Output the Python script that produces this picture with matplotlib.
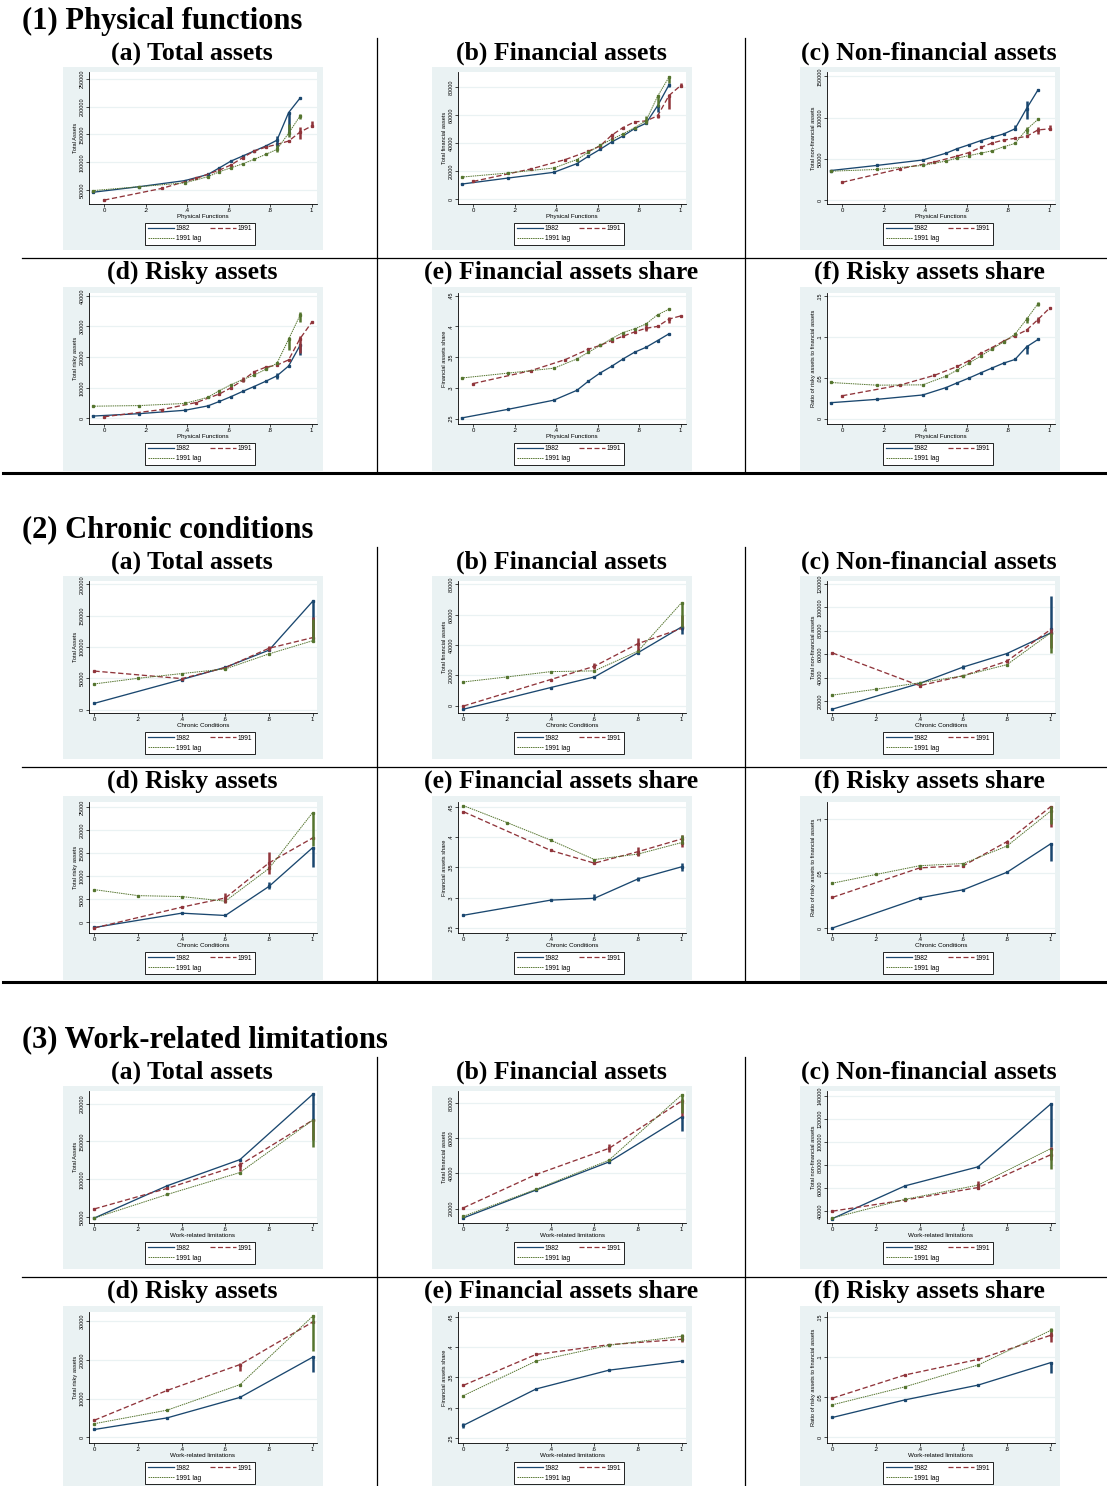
import numpy as np
import matplotlib.pyplot as plt
from matplotlib.lines import Line2D
from matplotlib.patches import Rectangle

plt.rcParams['font.family'] = ['Liberation Sans', 'DejaVu Sans']

# ---------------- data ----------------
# (1) physical functions
pf_x = [-0.056, 0.167, 0.389, 0.5, 0.556, 0.611, 0.667, 0.722, 0.778, 0.833, 0.889, 0.944]
pf_x91 = [0.0, 0.278, 0.444, 0.556, 0.611, 0.667, 0.722, 0.778, 0.833, 0.889, 0.944, 1.0]

pf_total_82 = [46000, 56000, 67000, 78000, 90000, 102000, 111000, 120000, 129000, 139500, 189000, 215000]
pf_total_91 = [32000, 53000, 71000, 86000, 95000, 108000, 120000, 127000, 132000, 138000, 154000, 165000]
pf_total_lag = [49000, 56000, 63000, 74000, 83000, 90000, 97000, 105000, 114000, 123000, 152000, 183000]
pf_total_bars = [('82', 0.833, 127700, 146800), ('82', 0.889, 154500, 188600),
                 ('lag', 0.833, 118700, 130600), ('lag', 0.889, 145600, 169500), ('lag', 0.944, 178400, 187400),
                 ('91', 0.944, 142600, 163500), ('91', 1.0, 163500, 173700)]

pf_fin_82 = [10800, 15100, 19200, 25400, 30700, 35500, 40800, 45100, 50400, 54200, 66700, 81600]
pf_fin_91 = [12700, 21600, 28300, 34300, 37900, 45600, 51100, 55200, 55900, 59500, 74000, 81100]
pf_fin_lag = [15800, 18700, 22300, 28300, 33600, 38400, 42700, 46600, 51100, 55900, 73500, 87100]
pf_fin_bars = [('82', 0.889, 61900, 66700), ('82', 0.944, 80000, 83100),
               ('lag', 0.833, 53500, 59100), ('lag', 0.889, 65500, 73900), ('lag', 0.944, 83100, 87900),
               ('91', 0.667, 42700, 46300), ('91', 0.889, 58300, 60700), ('91', 0.944, 64300, 75100),
               ('91', 1.0, 80000, 83100)]

pf_nonfin_82 = [35700, 41900, 48500, 56700, 62400, 67000, 71900, 76000, 80100, 86300, 111000, 133500]
pf_nonfin_91 = [21400, 37800, 46000, 53400, 57500, 63700, 69000, 72700, 74800, 77200, 85000, 86300]
pf_nonfin_lag = [34900, 37000, 41900, 47200, 50900, 53800, 56700, 59600, 64500, 68600, 85500, 97800]
pf_nonfin_bars = [('82', 0.833, 85500, 90400), ('82', 0.889, 97800, 120000),
                  ('lag', 0.889, 80100, 88300), ('91', 0.944, 80100, 88300), ('91', 1.0, 85000, 91200)]

pf_risky_82 = [780, 1560, 2670, 4100, 5560, 7100, 8800, 10400, 12100, 13900, 17100, 23800]
pf_risky_91 = [560, 2900, 5200, 8000, 10000, 12400, 15200, 16700, 17400, 19100, 26000, 31300]
pf_risky_lag = [4000, 4200, 4900, 6900, 9100, 11000, 12700, 14100, 16000, 18000, 25800, 33600]
pf_risky_bars = [('82', 0.833, 13000, 14700), ('82', 0.944, 20800, 24100),
                 ('lag', 0.889, 22400, 26700), ('lag', 0.944, 31300, 34700),
                 ('91', 0.667, 11900, 13600), ('91', 0.944, 21300, 26900)]

pf_fshare_82 = [0.251, 0.265, 0.280, 0.296, 0.311, 0.324, 0.335, 0.347, 0.358, 0.366, 0.377, 0.388]
pf_fshare_91 = [0.307, 0.328, 0.346, 0.363, 0.369, 0.377, 0.384, 0.391, 0.397, 0.400, 0.412, 0.417]
pf_fshare_lag = [0.316, 0.324, 0.332, 0.347, 0.358, 0.369, 0.380, 0.390, 0.396, 0.404, 0.419, 0.428]
pf_fshare_bars = [('91', 0.944, 0.406, 0.416), ('91', 0.833, 0.393, 0.402)]

pf_rshare_82 = [0.0195, 0.0236, 0.029, 0.038, 0.044, 0.0497, 0.056, 0.062, 0.068, 0.0725, 0.088, 0.097]
pf_rshare_91 = [0.028, 0.041, 0.053, 0.064, 0.071, 0.080, 0.087, 0.095, 0.1015, 0.1085, 0.1215, 0.1355]
pf_rshare_lag = [0.0443, 0.041, 0.0414, 0.052, 0.0597, 0.068, 0.0766, 0.0853, 0.094, 0.1035, 0.1218, 0.141]
pf_rshare_bars = [('82', 0.889, 0.0795, 0.090), ('lag', 0.889, 0.1176, 0.124),
                  ('lag', 0.944, 0.1375, 0.1425), ('91', 0.944, 0.117, 0.125)]

# (2) chronic conditions
cc_x = [0, 0.4, 0.6, 0.8, 1]
cc_xlag = [0, 0.2, 0.4, 0.6, 0.8, 1]

cc_total_82 = [10000, 48000, 67600, 95000, 173000]
cc_total_91 = [61500, 49500, 67000, 98000, 115000]
cc_total_lag = [41000, 50000, 57500, 65000, 89000, 110000]
cc_total_bars = [('82', 1, 112000, 173000), ('91', 1, 115000, 148000), ('lag', 1, 110000, 145000),
                 ('91', 0.8, 93000, 101000)]

cc_fin_82 = [-2300, 12000, 19000, 35000, 52000]
cc_fin_91 = [-200, 17300, 26000, 41000, 51000]
cc_fin_lag = [15700, 19000, 22500, 23000, 36000, 68000]
cc_fin_bars = [('91', 0.6, 24000, 28000), ('91', 0.8, 37000, 45000), ('91', 1, 50000, 60000),
               ('lag', 1, 51000, 68000), ('82', 1, 47500, 52000)]

cc_nonfin_82 = [13000, 35000, 49000, 60500, 78000]
cc_nonfin_91 = [61000, 33000, 41500, 54000, 81000]
cc_nonfin_lag = [25000, 30000, 35500, 41500, 51000, 78000]
cc_nonfin_bars = [('82', 1, 78200, 109700), ('82', 0.6, 47000, 51000), ('91', 1, 65500, 81700),
                  ('lag', 1, 61000, 78000), ('91', 0.8, 52000, 56000)]

cc_risky_82 = [-1100, 2000, 1500, 7800, 16200]
cc_risky_91 = [-1200, 3300, 5300, 12900, 18300]
cc_risky_lag = [7100, 5800, 5600, 4600, 11700, 23800]
cc_risky_bars = [('82', 1, 12000, 16200), ('91', 0.8, 10500, 15200), ('91', 0.6, 4100, 6300),
                 ('lag', 1, 16500, 23800), ('82', 0.8, 7300, 8800)]

cc_fshare_82 = [0.271, 0.296, 0.299, 0.331, 0.351]
cc_fshare_91 = [0.442, 0.378, 0.357, 0.376, 0.397]
cc_fshare_lag = [0.452, 0.424, 0.395, 0.363, 0.372, 0.391]
cc_fshare_bars = [('91', 0.8, 0.369, 0.383), ('91', 1, 0.383, 0.403), ('lag', 1, 0.389, 0.403),
                  ('82', 1, 0.344, 0.358), ('82', 0.6, 0.297, 0.306), ('82', 0.8, 0.327, 0.334)]

cc_rshare_82 = [0.0, 0.0276, 0.035, 0.051, 0.077]
cc_rshare_91 = [0.028, 0.055, 0.057, 0.079, 0.111]
cc_rshare_lag = [0.041, 0.049, 0.057, 0.059, 0.075, 0.107]
cc_rshare_bars = [('82', 1, 0.061, 0.078), ('91', 1, 0.092, 0.112), ('lag', 1, 0.095, 0.112),
                  ('91', 0.8, 0.077, 0.080)]

# (3) work-related limitations
wl_x = [0, 0.333, 0.667, 1]

wl_total_82 = [49000, 91500, 126000, 212000]
wl_total_91 = [61000, 88000, 119000, 178000]
wl_total_lag = [49000, 80000, 109000, 178000]
wl_total_bars = [('82', 1, 179000, 212000), ('91', 1, 151800, 178600), ('lag', 1, 142900, 178600),
                 ('91', 0.667, 111600, 122800)]

wl_fin_82 = [14800, 30600, 46500, 72000]
wl_fin_91 = [20500, 39400, 54200, 81000]
wl_fin_lag = [15700, 31000, 47500, 84500]
wl_fin_bars = [('82', 1, 63800, 72000), ('91', 1, 72500, 82100), ('lag', 1, 74400, 85000),
               ('91', 0.667, 52300, 56700)]

wl_nonfin_82 = [33500, 62000, 78500, 133000]
wl_nonfin_91 = [40000, 49700, 60500, 89000]
wl_nonfin_lag = [34000, 50300, 62600, 94300]
wl_nonfin_bars = [('82', 1, 95900, 133500), ('91', 1, 84100, 95900), ('lag', 1, 76800, 94400),
                  ('91', 0.667, 59100, 66500)]

wl_risky_82 = [2000, 5000, 10300, 20700]
wl_risky_91 = [4400, 12100, 18800, 29800]
wl_risky_lag = [3500, 7000, 13600, 31300]
wl_risky_bars = [('82', 1, 16900, 20700), ('lag', 1, 22200, 31300), ('91', 0.667, 17100, 19200)]

wl_fshare_82 = [0.271, 0.331, 0.362, 0.377]
wl_fshare_91 = [0.337, 0.388, 0.404, 0.413]
wl_fshare_lag = [0.320, 0.377, 0.403, 0.418]
wl_fshare_bars = [('91', 1, 0.408, 0.420), ('lag', 1, 0.410, 0.422), ('82', 0, 0.266, 0.274)]

wl_rshare_82 = [0.0248, 0.0467, 0.065, 0.093]
wl_rshare_91 = [0.0488, 0.0777, 0.097, 0.127]
wl_rshare_lag = [0.0405, 0.063, 0.090, 0.133]
wl_rshare_bars = [('82', 1, 0.0798, 0.0942), ('lag', 1, 0.128, 0.1355), ('91', 1, 0.119, 0.131)]

titles = ["(a) Total assets", "(b) Financial assets", "(c) Non-financial assets",
          "(d) Risky assets", "(e) Financial assets share", "(f) Risky assets share"]
ylabels = ["Total Assets", "Total financial assets", "Total non-financial assets",
           "Total risky assets", "Financial assets share", "Ratio of risky assets to financial assets"]

# ---------------- layout ----------------
W, H = 1107, 1486
fig = plt.figure(figsize=(W / 100, H / 100), dpi=100)

c82, c91, clag = '#1a476f', '#90353b', '#55752f'
cols = {'82': c82, '91': c91, 'lag': clag}
bgcol = '#eaf2f3'
serif = ['Liberation Serif', 'DejaVu Serif']


def fx(x):
    return x / W


def fy(y):
    return 1 - y / H


def fmt(v):
    if v == 0:
        return '0'
    if abs(v) < 1:
        return ('%g' % v).replace('0.', '.')
    return '%d' % v


sections = [
    ("(1) Physical functions", "Physical Functions", pf_x, pf_x91, pf_x, (-0.073, 1.026), [
        (pf_total_82, pf_total_91, pf_total_lag, pf_total_bars, (25000, 262000), np.arange(50000, 250001, 50000)),
        (pf_fin_82, pf_fin_91, pf_fin_lag, pf_fin_bars, (-3400, 90800), np.arange(0, 80001, 20000)),
        (pf_nonfin_82, pf_nonfin_91, pf_nonfin_lag, pf_nonfin_bars, (-4900, 155300), np.arange(0, 150001, 50000)),
        (pf_risky_82, pf_risky_91, pf_risky_lag, pf_risky_bars, (-1800, 40900), np.arange(0, 40001, 10000)),
        (pf_fshare_82, pf_fshare_91, pf_fshare_lag, pf_fshare_bars, (0.2412, 0.4544), [.25, .3, .35, .4, .45]),
        (pf_rshare_82, pf_rshare_91, pf_rshare_lag, pf_rshare_bars, (-0.0066, 0.154), [0, .05, .1, .15]),
    ]),
    ("(2) Chronic conditions", "Chronic Conditions", cc_x, cc_x, cc_xlag, (-0.025, 1.02), [
        (cc_total_82, cc_total_91, cc_total_lag, cc_total_bars, (-5500, 205500), np.arange(0, 200001, 50000)),
        (cc_fin_82, cc_fin_91, cc_fin_lag, cc_fin_bars, (-4800, 82300), np.arange(0, 80001, 20000)),
        (cc_nonfin_82, cc_nonfin_91, cc_nonfin_lag, cc_nonfin_bars, (9700, 122400), np.arange(20000, 120001, 20000)),
        (cc_risky_82, cc_risky_91, cc_risky_lag, cc_risky_bars, (-2300, 26100), np.arange(0, 25001, 5000)),
        (cc_fshare_82, cc_fshare_91, cc_fshare_lag, cc_fshare_bars, (0.2417, 0.458), [.25, .3, .35, .4, .45]),
        (cc_rshare_82, cc_rshare_91, cc_rshare_lag, cc_rshare_bars, (-0.0046, 0.1153), [0, .05, .1]),
    ]),
    ("(3) Work-related limitations", "Work-related limitations", wl_x, wl_x, wl_x, (-0.025, 1.02), [
        (wl_total_82, wl_total_91, wl_total_lag, wl_total_bars, (42400, 216500), np.arange(50000, 200001, 50000)),
        (wl_fin_82, wl_fin_91, wl_fin_lag, wl_fin_bars, (11900, 86700), np.arange(20000, 80001, 20000)),
        (wl_nonfin_82, wl_nonfin_91, wl_nonfin_lag, wl_nonfin_bars, (29700, 144400), np.arange(40000, 140001, 20000)),
        (wl_risky_82, wl_risky_91, wl_risky_lag, wl_risky_bars, (-1500, 32400), np.arange(0, 30001, 10000)),
        (wl_fshare_82, wl_fshare_91, wl_fshare_lag, wl_fshare_bars, (0.2418, 0.458), [.25, .3, .35, .4, .45]),
        (wl_rshare_82, wl_rshare_91, wl_rshare_lag, wl_rshare_bars, (-0.007, 0.156), [0, .05, .1, .15]),
    ]),
]

offsets = [0, 509, 1019]
plot_left = [89, 458, 827]
plot_w = 228
bg_left = [63, 432, 800]
bg_w = 260
sub_cx = [192, 561, 929]

for s, (stitle, xlabel, x82, x91, xlag, xlim, panels) in enumerate(sections):
    off = offsets[s]
    fig.text(fx(22), fy(21 + off), stitle, fontsize=22, fontweight='bold', family=serif, ha='left', va='center')

    # frame lines
    vend = 473 + off if s < 2 else H
    for xv in (377, 745):
        fig.add_artist(Line2D([fx(xv), fx(xv)], [fy(38 + off), fy(vend)], color='black', lw=0.9,
                              transform=fig.transFigure))
    fig.add_artist(Line2D([fx(22), fx(W)], [fy(258 + off), fy(258 + off)], color='black', lw=0.9,
                          transform=fig.transFigure))
    if s < 2:
        fig.add_artist(Line2D([fx(3), fx(W)], [fy(473 + off), fy(473 + off)], color='black', lw=2.2,
                              transform=fig.transFigure))

    for k, (y82, y91, ylag, bars, ylim, yticks) in enumerate(panels):
        row, col = divmod(k, 3)
        top = (72 if row == 0 else 293) + off
        bot = (204 if row == 0 else 424) + off
        btop = (67 if row == 0 else 287) + off
        bbot = (250 if row == 0 else 471) + off

        fig.patches.append(Rectangle((fx(bg_left[col]), fy(bbot)), bg_w / W, (bbot - btop) / H,
                                     transform=fig.transFigure, facecolor=bgcol, edgecolor='none', zorder=-1))
        fig.text(fx(sub_cx[col]), fy((53 if row == 0 else 272) + off), titles[k], fontsize=18.5,
                 fontweight='bold', family=serif, ha='center', va='center')

        ax = fig.add_axes([fx(plot_left[col]), fy(bot), plot_w / W, (bot - top) / H])
        ax.plot(x82, y82, color=c82, lw=0.95, marker='s', ms=1.4, zorder=3)
        ax.plot(x91, y91, color=c91, lw=0.95, ls=(0, (4, 2)), marker='s', ms=1.4, zorder=3)
        ax.plot(xlag, ylag, color=clag, lw=0.7, ls=(0, (1.5, 0.8)), marker='s', ms=1.4, zorder=3)
        for ser, xb, lo, hi in bars:
            ax.vlines(xb, lo, hi, color=cols[ser], lw=1.8, zorder=4)

        ax.set_xlim(xlim)
        ax.set_ylim(ylim)
        ax.set_xticks([0, .2, .4, .6, .8, 1])
        ax.set_xticklabels(['0', '.2', '.4', '.6', '.8', '1'], fontsize=4.3)
        ax.set_yticks(yticks)
        ax.set_yticklabels([fmt(v) for v in yticks], rotation=90, va='center', fontsize=3.9)
        ax.grid(axis='y', color=bgcol, lw=0.9)
        ax.set_axisbelow(True)
        ax.spines[['top', 'right']].set_visible(False)
        ax.spines[['left', 'bottom']].set_linewidth(0.6)
        ax.tick_params(length=2, width=0.5, pad=1.2)
        ax.set_xlabel(xlabel, fontsize=4.5, labelpad=0.6)
        ax.set_ylabel(ylabels[k], fontsize=4.1, labelpad=1)

        handles = [Line2D([], [], color=c82, lw=0.9),
                   Line2D([], [], color=clag, lw=0.7, ls=(0, (1.5, 0.8))),
                   Line2D([], [], color=c91, lw=0.9, ls=(0, (4, 2)))]
        leg = ax.legend(handles, ['1982', '1991 lag', '1991'], loc='center',
                        bbox_to_anchor=(fx(plot_left[col] + plot_w / 2 - 3), fy(bot + 30)),
                        bbox_transform=fig.transFigure, ncol=2, fontsize=4.8, frameon=True,
                        fancybox=False, edgecolor='black', framealpha=1, borderpad=0.4,
                        handlelength=3.9, columnspacing=1.3, labelspacing=0.45, handletextpad=0.3,
                        borderaxespad=0)
        leg.get_frame().set_linewidth(0.6)

fig.savefig('out.png', dpi=100, facecolor='white')
